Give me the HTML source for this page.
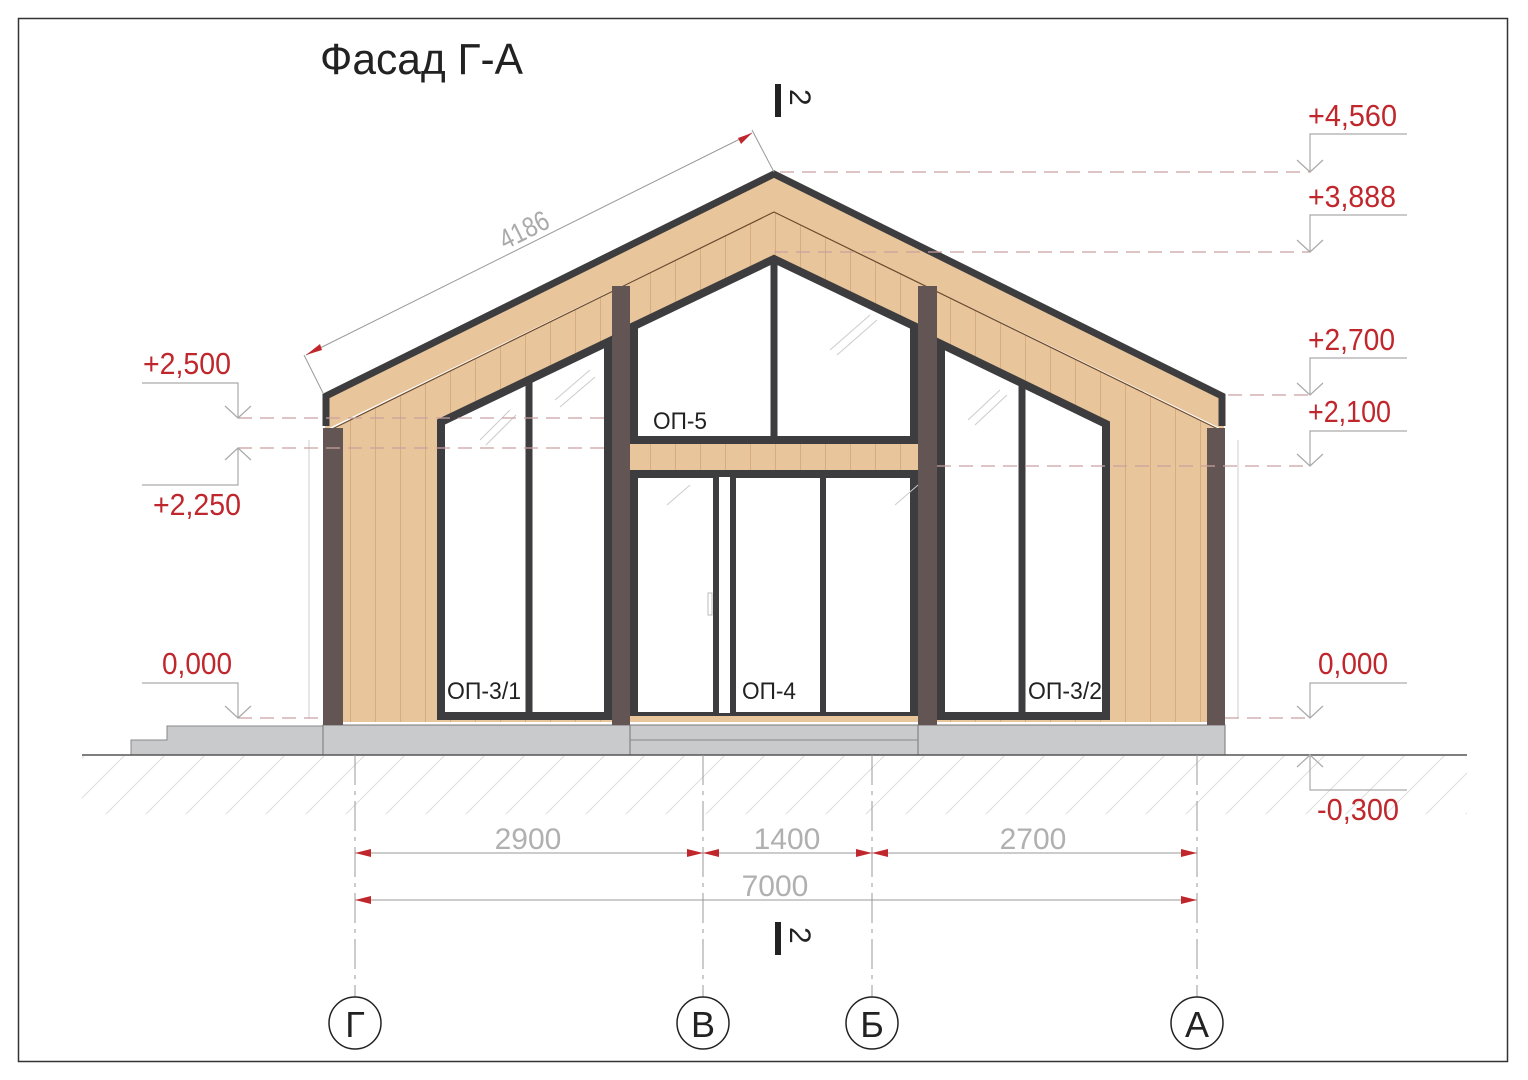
<!DOCTYPE html>
<html><head><meta charset="utf-8"><style>
html,body{margin:0;padding:0;background:#fff}
svg{display:block}
text{font-family:"Liberation Sans",sans-serif}
</style></head><body>
<svg width="1528" height="1080" viewBox="0 0 1528 1080" xmlns="http://www.w3.org/2000/svg">
<defs>
<pattern id="vl" width="25" height="10" patternUnits="userSpaceOnUse"><rect width="25" height="10" fill="#e9c59b"/><line x1="0.5" y1="0" x2="0.5" y2="10" stroke="#d6ad80" stroke-width="1"/></pattern>
<pattern id="hatch" width="40" height="40" patternUnits="userSpaceOnUse"><line x1="0" y1="40" x2="40" y2="0" stroke="#ddd" stroke-width="1"/></pattern>
</defs>
<rect x="18.5" y="18.5" width="1489" height="1043" fill="none" stroke="#333" stroke-width="1.5"/>
<text x="320" y="74" font-size="44" fill="#222" textLength="203" lengthAdjust="spacingAndGlyphs">Фасад Г-А</text>

<rect x="82" y="756" width="1385" height="58" fill="url(#hatch)"/>
<polygon points="131,755 131,740 167,740 167,726 323,726 323,755" fill="#c9cacc" stroke="#888" stroke-width="1"/>
<rect x="323" y="725" width="902" height="30" fill="#c9cacc" stroke="#777" stroke-width="1"/>
<line x1="630" y1="725" x2="630" y2="755" stroke="#777"/><line x1="918" y1="725" x2="918" y2="755" stroke="#777"/>
<line x1="630" y1="740" x2="918" y2="740" stroke="#888"/>
<line x1="82" y1="755" x2="1467" y2="755" stroke="#555" stroke-width="1.5"/>

<polygon points="330,430 774,212 1220,430 1220,722 330,722" fill="url(#vl)"/>
<polygon points="325,395 774,172 1224,395 1224,430 774,212 325,430" fill="#e9c59b"/>
<polyline points="330,430 774,212 1220,430" fill="none" stroke="#6b4a2e" stroke-width="1.2"/>
<polyline points="326,426 326,396 774,174 1222,396 1222,426" fill="none" stroke="#3d3d3f" stroke-width="7"/>
<rect x="323" y="428" width="20" height="297" fill="#625553"/>
<rect x="1207" y="428" width="18" height="297" fill="#625553"/>
<rect x="612" y="286" width="18" height="439" fill="#625553"/>
<rect x="918" y="286" width="19" height="439" fill="#625553"/>

<polygon points="441,422 608,342 608,716 441,716" fill="#fff" stroke="#3d3d3f" stroke-width="8"/>
<line x1="529" y1="380" x2="529" y2="716" stroke="#3d3d3f" stroke-width="7"/>
<polygon points="634,326 774,259 914,326 914,440 634,440" fill="#fff" stroke="#3d3d3f" stroke-width="8"/>
<line x1="774" y1="259" x2="774" y2="440" stroke="#3d3d3f" stroke-width="7"/>
<rect x="630" y="449" width="288" height="18" fill="url(#vl)"/>
<rect x="634" y="474" width="280" height="242" fill="#fff" stroke="#3d3d3f" stroke-width="8"/>
<rect x="716" y="474" width="17" height="242" fill="#fff" stroke="#3d3d3f" stroke-width="6"/>
<line x1="823" y1="474" x2="823" y2="716" stroke="#3d3d3f" stroke-width="6"/>
<rect x="630" y="716" width="288" height="6" fill="#e9c59b"/>
<rect x="708" y="593" width="4" height="22" fill="none" stroke="#bbb"/>
<polygon points="941,344 1106,424 1106,716 941,716" fill="#fff" stroke="#3d3d3f" stroke-width="8"/>
<line x1="1022" y1="383" x2="1022" y2="716" stroke="#3d3d3f" stroke-width="7"/>
<g stroke="#ccc" stroke-width="1">
<line x1="480" y1="440" x2="510" y2="410"/><line x1="486" y1="445" x2="516" y2="415"/>
<line x1="555" y1="400" x2="590" y2="370"/><line x1="560" y1="407" x2="595" y2="377"/>
<line x1="667" y1="505" x2="690" y2="485"/><line x1="895" y1="505" x2="918" y2="485"/>
<line x1="830" y1="350" x2="870" y2="315"/><line x1="837" y1="355" x2="877" y2="320"/>
<line x1="968" y1="420" x2="1000" y2="390"/><line x1="975" y1="425" x2="1007" y2="395"/>
</g>
<g font-size="24" fill="#222">
<text x="653" y="429" textLength="54" lengthAdjust="spacingAndGlyphs">ОП-5</text>
<text x="447" y="699" textLength="74" lengthAdjust="spacingAndGlyphs">ОП-3/1</text>
<text x="742" y="699" textLength="54" lengthAdjust="spacingAndGlyphs">ОП-4</text>
<text x="1028" y="699" textLength="74" lengthAdjust="spacingAndGlyphs">ОП-3/2</text>
</g>

<path d="M309,440 L309,718 M1238,440 L1238,718" stroke="#ccc" fill="none"/>

<g stroke="#c9a0a0" stroke-width="1.3" stroke-dasharray="14,8" fill="none">
<line x1="780" y1="172" x2="1310" y2="172"/>
<line x1="774" y1="252" x2="1310" y2="252"/>
<line x1="1228" y1="395" x2="1310" y2="395"/>
<line x1="937" y1="466" x2="1310" y2="466"/>
<line x1="1225" y1="718" x2="1310" y2="718"/>
<line x1="238" y1="418" x2="612" y2="418"/>
<line x1="238" y1="448" x2="612" y2="448"/>
<line x1="238" y1="718" x2="323" y2="718"/>
</g>
<g stroke="#aaa" stroke-width="1.2" fill="none">
<path d="M1407,134 H1310 V172 M1297,160 L1310,172 L1323,160"/>
<path d="M1407,215 H1310 V252 M1297,240 L1310,252 L1323,240"/>
<path d="M1407,358 H1310 V395 M1297,383 L1310,395 L1323,383"/>
<path d="M1407,431 H1310 V466 M1297,454 L1310,466 L1323,454"/>
<path d="M1407,683 H1310 V718 M1297,706 L1310,718 L1323,706"/>
<path d="M1407,790 H1310 V755 M1297,767 L1310,755 L1323,767"/>
<path d="M142,383 H238 V418 M225,406 L238,418 L251,406"/>
<path d="M142,485 H238 V448 M225,460 L238,448 L251,460"/>
<path d="M142,683 H238 V718 M225,706 L238,718 L251,706"/>
</g>
<g font-size="31" fill="#c0272d" lengthAdjust="spacingAndGlyphs">
<text x="1308" y="126" textLength="89" lengthAdjust="spacingAndGlyphs">+4,560</text>
<text x="1308" y="207" textLength="88" lengthAdjust="spacingAndGlyphs">+3,888</text>
<text x="1308" y="350" textLength="87" lengthAdjust="spacingAndGlyphs">+2,700</text>
<text x="1308" y="422" textLength="83" lengthAdjust="spacingAndGlyphs">+2,100</text>
<text x="1318" y="674" textLength="70" lengthAdjust="spacingAndGlyphs">0,000</text>
<text x="1317" y="820" textLength="82" lengthAdjust="spacingAndGlyphs">-0,300</text>
<text x="143" y="374" textLength="88" lengthAdjust="spacingAndGlyphs">+2,500</text>
<text x="153" y="515" textLength="88" lengthAdjust="spacingAndGlyphs">+2,250</text>
<text x="162" y="674" textLength="70" lengthAdjust="spacingAndGlyphs">0,000</text>
</g>

<g stroke="#999" stroke-width="1" fill="none">
<line x1="306" y1="355" x2="752" y2="133"/>
<line x1="304" y1="355" x2="323" y2="393"/>
<line x1="752" y1="130" x2="774" y2="172"/>
</g>
<polygon points="306,355 320,344 322,350" fill="#c0272d"/>
<polygon points="752,133 738,138 741,144" fill="#c0272d"/>
<text x="0" y="0" font-size="28" fill="#aaa" transform="translate(505,250) rotate(-26.5)" textLength="52" lengthAdjust="spacingAndGlyphs">4186</text>

<g stroke="#999" stroke-width="1" stroke-dasharray="30,6,4,6">
<line x1="355" y1="755" x2="355" y2="997"/>
<line x1="703" y1="755" x2="703" y2="997"/>
<line x1="872" y1="755" x2="872" y2="997"/>
<line x1="1197" y1="755" x2="1197" y2="997"/>
</g>
<g stroke="#999" stroke-width="1">
<line x1="355" y1="853" x2="1197" y2="853"/>
<line x1="355" y1="900" x2="1197" y2="900"/>
</g>
<g fill="#c0272d">
<polygon points="355,853 371,849 371,857"/><polygon points="703,853 687,849 687,857"/>
<polygon points="703,853 719,849 719,857"/><polygon points="872,853 856,849 856,857"/>
<polygon points="872,853 888,849 888,857"/><polygon points="1197,853 1181,849 1181,857"/>
<polygon points="355,900 371,896 371,904"/><polygon points="1197,900 1181,896 1181,904"/>
</g>
<g font-size="30" fill="#b0b0b0" text-anchor="middle">
<text x="528" y="849">2900</text><text x="787" y="849">1400</text><text x="1033" y="849">2700</text><text x="775" y="896">7000</text>
</g>
<g fill="#fff" stroke="#222" stroke-width="1.5">
<circle cx="355" cy="1023" r="26"/><circle cx="703" cy="1023" r="26"/><circle cx="872" cy="1023" r="26"/><circle cx="1197" cy="1023" r="26"/>
</g>
<g font-size="36" fill="#222" text-anchor="middle">
<text x="355" y="1037">Г</text><text x="703" y="1037">В</text><text x="872" y="1037">Б</text><text x="1197" y="1037">А</text>
</g>
<rect x="775" y="84" width="6" height="33" fill="#222"/>
<text x="0" y="0" font-size="30" fill="#222" transform="translate(790,89) rotate(90)">2</text>
<rect x="775" y="922" width="6" height="33" fill="#222"/>
<text x="0" y="0" font-size="30" fill="#222" transform="translate(790,927) rotate(90)">2</text>
</svg>
</body></html>
